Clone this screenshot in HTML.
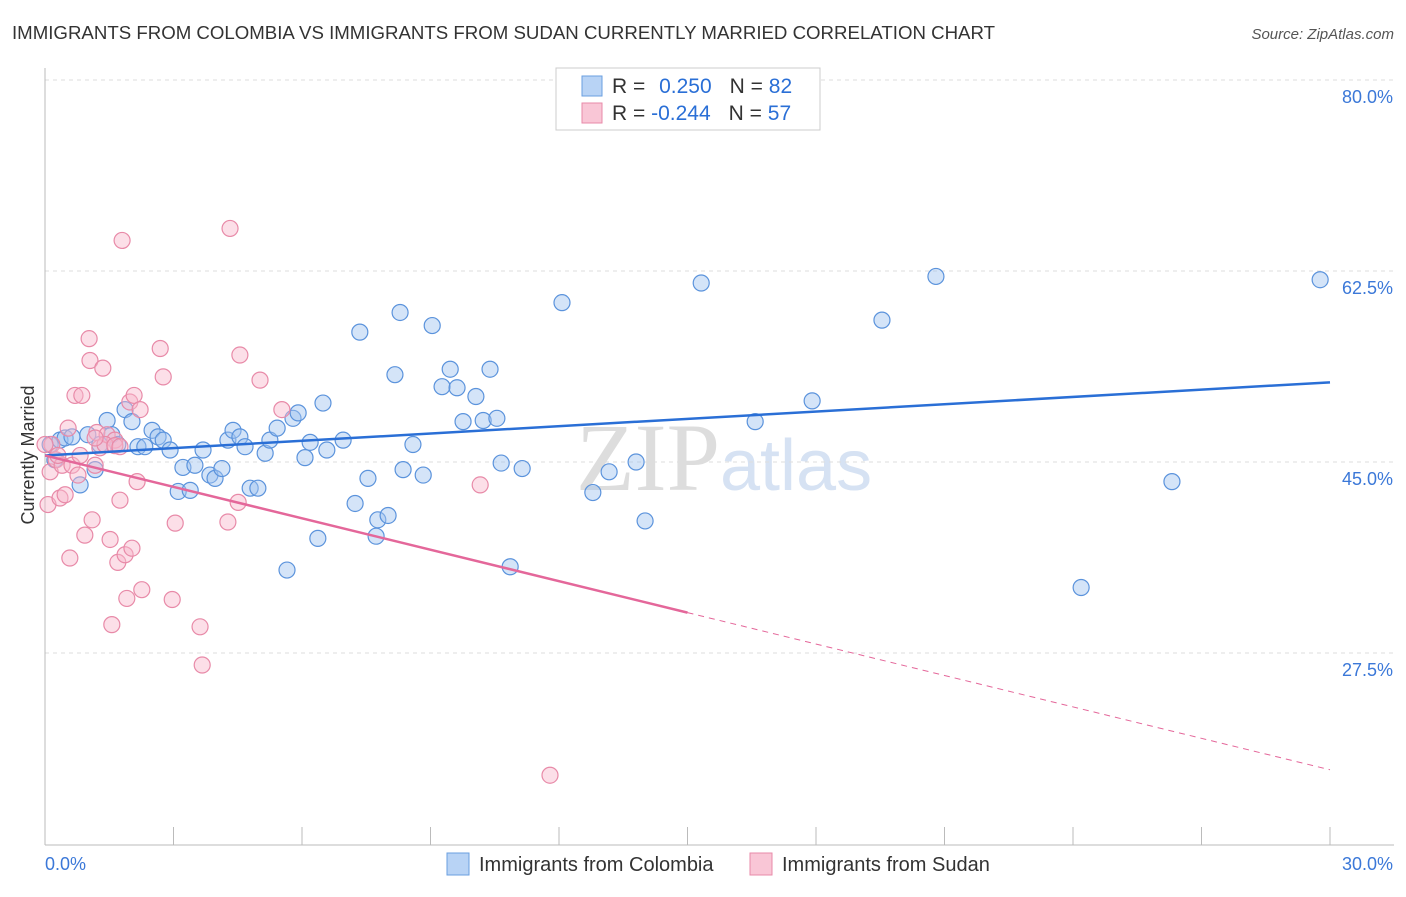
<!DOCTYPE html>
<html><head><meta charset="utf-8"><style>
body{margin:0;background:#fff;font-family:"Liberation Sans",sans-serif;}
</style></head><body>
<svg width="1406" height="892" xmlns="http://www.w3.org/2000/svg" id="svg" font-family="Liberation Sans, sans-serif">
<text x="12" y="39" font-size="18.5" fill="#333" textLength="983" lengthAdjust="spacingAndGlyphs">IMMIGRANTS FROM COLOMBIA VS IMMIGRANTS FROM SUDAN CURRENTLY MARRIED CORRELATION CHART</text>
<text x="1394" y="39" font-size="15" fill="#555" font-style="italic" text-anchor="end">Source: ZipAtlas.com</text>
<text x="720" y="490" font-size="96" fill="#ddd" text-anchor="end" font-family="Liberation Serif, serif">ZIP</text>
<text x="720" y="490" font-size="72" fill="#d6e2f3">atlas</text>
<g id="grid"></g><g id="axes"></g><g id="pts"></g><g id="lines"></g>
<text transform="translate(34,455) rotate(-90)" font-size="18" fill="#333" text-anchor="middle">Currently Married</text>
<g>
<rect x="556" y="68" width="264" height="62" fill="#fff" stroke="#ccc"/>
<rect x="582" y="76" width="20" height="20" fill="#b8d3f5" stroke="#6a9fe0"/>
<rect x="582" y="103" width="20" height="20" fill="#f9c6d6" stroke="#e88aa8"/>
<text x="612" y="93" font-size="21" fill="#333">R = <tspan fill="#2a6fd6" dx="8">0.250</tspan><tspan dx="18">N = </tspan><tspan fill="#2a6fd6">82</tspan></text>
<text x="612" y="120" font-size="21" fill="#333">R = <tspan fill="#2a6fd6">-0.244</tspan><tspan dx="18">N = </tspan><tspan fill="#2a6fd6">57</tspan></text>
</g>
<g>
<rect x="447" y="853" width="22" height="22" fill="#b8d3f5" stroke="#6a9fe0"/>
<text x="479" y="871" font-size="20" fill="#333">Immigrants from Colombia</text>
<rect x="750" y="853" width="22" height="22" fill="#f9c6d6" stroke="#e88aa8"/>
<text x="782" y="871" font-size="20" fill="#333">Immigrants from Sudan</text>
</g>
</svg>
<script>
const yTicks=[80,62.5,45,27.5];
const yTickLabels=["80.0%","62.5%","45.0%","27.5%"];
const xTicks=[0,3,6,9,12,15,18,21,24,27,30];
const blueX=[0.12,0.23,0.35,0.47,0.63,0.82,1.0,1.17,1.28,1.45,1.56,1.70,1.87,2.03,2.17,2.33,2.50,2.64,2.76,2.92,3.11,3.22,3.39,3.50,3.69,3.85,3.97,4.13,4.27,4.39,4.55,4.67,4.79,4.97,5.14,5.25,5.42,5.65,5.79,5.91,6.07,6.19,6.37,6.49,6.58,6.96,7.24,7.35,7.54,7.77,8.01,8.17,8.29,8.36,8.59,8.83,9.04,9.27,9.46,9.62,9.76,10.06,10.23,10.39,10.55,10.65,10.86,11.14,12.07,12.79,13.17,13.80,14.01,15.32,16.58,17.91,19.54,20.80,24.19,26.31,29.77,7.73];
const blueY=[46.6,45.2,47.0,47.2,47.3,42.9,47.5,44.3,46.6,48.8,47.5,46.6,49.8,48.7,46.4,46.4,47.9,47.3,47.0,46.1,42.3,44.5,42.4,44.7,46.1,43.8,43.5,44.4,47.0,47.9,47.3,46.4,42.6,42.6,45.8,47.0,48.1,35.1,49.0,49.5,45.4,46.8,38.0,50.4,46.1,47.0,41.2,56.9,43.5,39.7,40.1,53.0,58.7,44.3,46.6,43.8,57.5,51.9,53.5,51.8,48.7,51.0,48.8,53.5,49.0,44.9,35.4,44.4,59.6,42.2,44.1,45.0,39.6,61.4,48.7,50.6,58.0,62.0,33.5,43.2,61.7,38.2];
const pinkX=[0.07,0.12,0.16,0.26,0.35,0.40,0.47,0.54,0.58,0.63,0.70,0.77,0.82,0.86,0.93,1.03,1.05,1.10,1.17,1.21,1.28,1.35,1.45,1.52,1.56,1.63,1.70,1.75,1.80,1.87,1.91,1.98,2.03,2.08,2.15,2.26,2.69,2.76,2.97,3.04,3.62,3.67,4.27,4.32,4.51,4.55,5.02,5.53,10.16,11.79,0,0.30,1.40,1.63,1.75,2.22,1.17];
const pinkY=[41.1,44.1,46.6,45.2,41.7,44.7,42.0,48.1,36.2,44.7,51.1,43.8,45.6,51.1,38.3,56.3,54.3,39.7,44.7,47.7,46.3,53.6,47.5,37.9,30.1,47.0,35.8,41.5,65.3,36.5,32.5,50.5,37.1,51.1,43.2,33.3,55.4,52.8,32.4,39.4,29.9,26.4,39.5,66.4,41.3,54.8,52.5,49.8,42.9,16.3,46.6,45.6,46.6,46.5,46.4,49.8,47.2];
const blueTrend=[45.6,52.3];
const pinkTrend=[45.6,16.8];
const NS="http://www.w3.org/2000/svg";
const X=v=>45+v*(1285/30);
const Y=v=>80+(80-v)*10.914;
function mk(tag,attrs,parent,txt){const e=document.createElementNS(NS,tag);for(const k in attrs)e.setAttribute(k,attrs[k]);if(txt!==undefined)e.textContent=txt;document.getElementById(parent).appendChild(e);return e;}
yTicks.forEach((t,i)=>{
 const l=mk('line',{x1:45,x2:1394,y1:Y(t),y2:Y(t),stroke:'#ddd','stroke-dasharray':'4,4'},'grid');
 
 
 const tx=mk('text',{x:1393,y:Y(t)+23,'font-size':18,fill:'#3b78d8','text-anchor':'end'},'grid',yTickLabels[i]);
 
 
});
const ax=mk('line',{x1:45,x2:1394,y1:845,y2:845,stroke:'#bbb'},'axes');


const ay=mk('line',{x1:45,x2:45,y1:68,y2:845,stroke:'#bbb'},'axes');


xTicks.forEach(t=>{
 const l=mk('line',{x1:X(t),x2:X(t),y1:827,y2:845,stroke:'#bbb'},'axes');
 
 
});
const xl0=mk('text',{x:45,y:870,'font-size':18,fill:'#3b78d8'},'axes','0.0%');


const xl1=mk('text',{x:1393,y:870,'font-size':18,fill:'#3b78d8','text-anchor':'end'},'axes','30.0%');


blueX.forEach((v,i)=>{
 const c=mk('circle',{cx:X(v),cy:Y(blueY[i]),r:8,fill:'rgba(160,195,240,0.45)',stroke:'#5b93dc','stroke-width':1.2},'pts');
 
 
});
pinkX.forEach((v,i)=>{
 const c=mk('circle',{cx:X(v),cy:Y(pinkY[i]),r:8,fill:'rgba(248,185,205,0.45)',stroke:'#e88aa8','stroke-width':1.2},'pts');
 
 
});
const bl=mk('line',{x1:X(0),y1:Y(blueTrend[0]),x2:X(30),y2:Y(blueTrend[1]),stroke:'#2a6fd6','stroke-width':2.5},'lines');


const pm=pinkTrend[0]+(pinkTrend[1]-pinkTrend[0])*0.5;
const pl=mk('line',{x1:X(0),y1:Y(pinkTrend[0]),x2:X(15),y2:Y(pm),stroke:'#e4679a','stroke-width':2.5},'lines');


const pd=mk('line',{x1:X(15),y1:Y(pm),x2:X(30),y2:Y(pinkTrend[1]),stroke:'#e4679a','stroke-width':1,'stroke-dasharray':'6,5'},'lines');


</script>
</body></html>
